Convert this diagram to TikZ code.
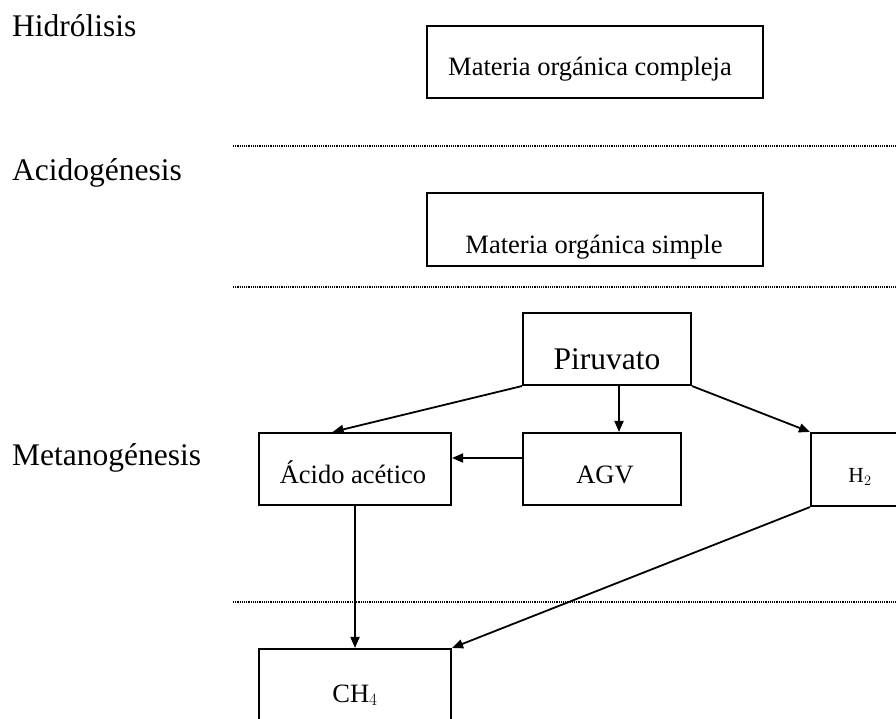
\documentclass[tikz,border=0pt]{standalone}
\usepackage{fontspec}
\setmainfont{Liberation Serif}
\usetikzlibrary{arrows.meta,calc}
\begin{document}
\begin{tikzpicture}[x=1pt,y=-1pt,
  box/.style={draw=black,line width=2.1pt,minimum height=72pt,inner sep=0pt},
  big/.style={font=\fontsize{31.5}{36}\selectfont,inner sep=0pt,anchor=base},
  mid/.style={font=\fontsize{26.5}{30}\selectfont,inner sep=0pt,anchor=base},
  small/.style={font=\fontsize{21.5}{24}\selectfont,inner sep=0pt,anchor=base},
  arr/.style={line width=1.8pt,-{Triangle[length=11pt,width=9pt]}},
  sep/.style={line width=1.3pt,dash pattern=on 1.2pt off 1pt}]
\useasboundingbox (0,0) rectangle (896,718);
\clip (0,0) rectangle (896,718);
% phase labels
\node[big,anchor=base west] (lh) at (12,36) {Hidrólisis};
\node[big,anchor=base west] (la) at (12,180) {Acidogénesis};
\node[big,anchor=base west] (lm) at (12,465) {Metanogénesis};
% separators
\coordinate (s1a) at (233,146); \coordinate (s1b) at (896,146);
\coordinate (s2a) at (233,287); \coordinate (s2b) at (896,287);
\coordinate (s3a) at (233,602); \coordinate (s3b) at (896,602);
\draw[sep] (s1a) -- (s1b);
\draw[sep] (s2a) -- (s2b);
\draw[sep] (s3a) -- (s3b);
% boxes
\node[box,minimum width=336pt] (mc) at (595,62) {};
\node[mid] (mct) at (590,75) {Materia orgánica compleja};
\node[box,minimum width=336pt,minimum height=73pt] (ms) at (595,229.5) {};
\node[mid] (mst) at (594,253) {Materia orgánica simple};
\node[box,minimum width=168pt] (pir) at (607,349) {};
\node[big] (pirt) at (607,369) {Piruvato};
\node[box,minimum width=192pt] (aci) at (355,469) {};
\node[mid] (acit) at (353,483) {Ácido acético};
\node[box,minimum width=158pt] (agv) at (602,469) {};
\node[mid] (agvt) at (605,483) {AGV};
\node[box,minimum width=120pt,minimum height=73pt] (h2) at (871,469.5) {};
\node[small] (h2t) at (860,482) {H$_2$};
\node[box,minimum width=192pt] (ch4) at (355,685) {};
\node[mid] (ch4t) at (355,702) {CH$_4$};
% connectors
\draw[arr] (pir.south west) -- ($(aci.north west)!0.385!(aci.north east)$);
\draw[arr] ([xshift=12pt]pir.south) -- ([xshift=17pt]agv.north);
\draw[arr] ([yshift=11pt]agv.west) -- ([yshift=11pt]aci.east);
\draw[arr] (pir.south east) -- (h2.north west);
\draw[arr] (aci.south) -- (ch4.north);
\draw[arr] (h2.south west) -- (ch4.north east);
\end{tikzpicture}
\end{document}
